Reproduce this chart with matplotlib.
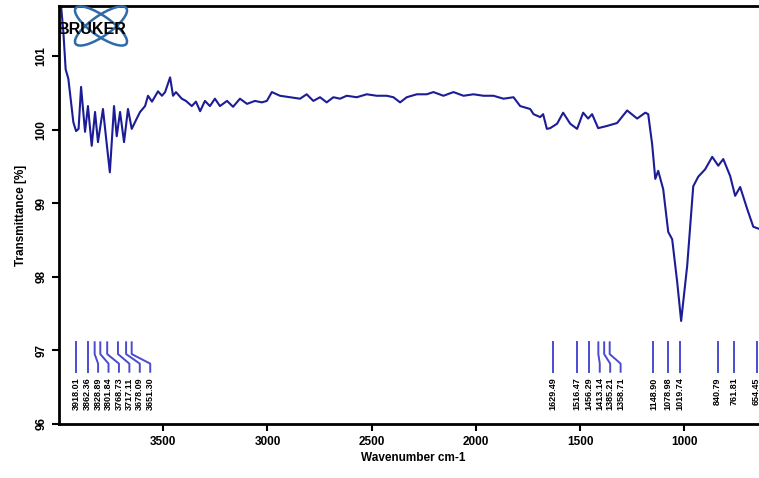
import numpy as np
import matplotlib
matplotlib.use('Agg')
import matplotlib.pyplot as plt
from matplotlib.patches import Ellipse

plt.rcParams['font.family'] = ['Liberation Sans', 'DejaVu Sans']
plt.rcParams['font.weight'] = 'bold'

# spectre (nombre d'onde en cm-1, transmittance en %)
nombre_onde = [3995, 3979, 3968, 3955, 3931, 3918, 3906, 3894, 3875, 3861,
               3843, 3827, 3813, 3789, 3770, 3756, 3736, 3723, 3707, 3688,
               3669, 3651, 3627, 3611, 3587, 3573, 3554, 3525, 3506, 3491,
               3467, 3453, 3439, 3411, 3391, 3363, 3343, 3323, 3300, 3276,
               3252, 3228, 3194, 3165, 3132, 3098, 3060, 3027, 3003, 2979,
               2940, 2892, 2844, 2812, 2780, 2748, 2716, 2684, 2652, 2620,
               2572, 2524, 2476, 2428, 2396, 2364, 2332, 2284, 2236, 2204,
               2156, 2108, 2060, 2012, 1964, 1916, 1868, 1820, 1788, 1740,
               1724, 1692, 1678, 1660, 1644, 1611, 1582, 1548, 1515, 1486,
               1462, 1443, 1414, 1371, 1323, 1275, 1227, 1188, 1174, 1155,
               1140, 1126, 1102, 1078, 1059, 1035, 1016, 987, 958, 934,
               901, 867, 838, 814, 781, 757, 733, 699, 670, 641]
transmittance = [101.84, 101.33, 100.82, 100.69, 100.10, 99.98, 100.01, 100.58, 99.97, 100.32,
                 99.78, 100.24, 99.83, 100.28, 99.78, 99.42, 100.32, 99.91, 100.24, 99.83,
                 100.28, 100.01, 100.15, 100.24, 100.32, 100.46, 100.38, 100.52, 100.46, 100.51,
                 100.71, 100.46, 100.51, 100.42, 100.39, 100.32, 100.38, 100.25, 100.39, 100.32,
                 100.42, 100.32, 100.39, 100.31, 100.42, 100.35, 100.39, 100.37, 100.39, 100.51,
                 100.46, 100.44, 100.42, 100.48, 100.39, 100.44, 100.37, 100.44, 100.42, 100.46,
                 100.44, 100.48, 100.46, 100.46, 100.44, 100.37, 100.44, 100.48, 100.48, 100.51,
                 100.46, 100.51, 100.46, 100.48, 100.46, 100.46, 100.42, 100.44, 100.32, 100.28,
                 100.21, 100.17, 100.21, 100.01, 100.02, 100.08, 100.23, 100.08, 100.01, 100.23,
                 100.15, 100.21, 100.02, 100.05, 100.09, 100.26, 100.15, 100.23, 100.21, 99.80,
                 99.33, 99.44, 99.19, 98.61, 98.51, 97.93, 97.40, 98.15, 99.23, 99.36,
                 99.46, 99.63, 99.51, 99.60, 99.37, 99.10, 99.22, 98.92, 98.68, 98.65]

# pics annotés
pics = [3918.01, 3862.36, 3828.89, 3801.84, 3768.73, 3717.11, 3678.09, 3651.30,
        1629.49, 1516.47, 1456.29, 1413.14, 1385.21, 1358.71,
        1148.90, 1078.98, 1019.74, 840.79, 761.81, 654.45]

bleu = '#1c1c96'
bleu_pic = '#4b4bd0'

fig = plt.figure(figsize=(7.59, 4.78), dpi=100)
ax = fig.add_axes([0.0777, 0.113, 0.934, 0.8745])
ax.plot(nombre_onde, transmittance, color=bleu, lw=1.5)

ax.set_xlim(4000, 600)
ax.set_ylim(96, 101.68)
ax.set_xticks([3500, 3000, 2500, 2000, 1500, 1000])
ax.set_yticks([96, 97, 98, 99, 100, 101])
ax.tick_params(direction='out', length=5, width=1.5, labelsize=8.5)
for lab in ax.get_yticklabels():
    lab.set_rotation(90)
    lab.set_va('center')
for s in ['left', 'bottom', 'top']:
    ax.spines[s].set_linewidth(2)
ax.spines['right'].set_visible(False)
ax.set_xlabel('Wavenumber cm-1', fontsize=8.5, fontweight='bold', labelpad=3)
ax.set_ylabel('Transmittance [%]', fontsize=8.5, fontweight='bold', labelpad=6)

# lignes des pics, étiquettes écartées si trop proches
ecart = 50
pos_lab = []
for i, p in enumerate(pics):
    if i > 0 and pos_lab[-1] - p < ecart:
        pos_lab.append(pos_lab[-1] - ecart)
    else:
        pos_lab.append(p)
for p, q in zip(pics, pos_lab):
    ax.plot([p, p, q, q], [97.11, 96.95, 96.82, 96.71], color=bleu_pic, lw=1.4)
    ax.text(q, 96.63, '%.2f' % p, rotation=90, ha='center', va='top',
            fontsize=6.5, fontweight='bold')

# logo Bruker (en pouces pour garder les ellipses non déformées)
for ang in [35, -35]:
    fig.patches.append(Ellipse((1.01, 4.78 - 0.26), 0.62, 0.2,
                               angle=ang, transform=fig.dpi_scale_trans,
                               fill=False, ec='#2f6aa8', lw=1.8))
fig.text(58 / 759, 1 - 30 / 478, 'BRUKER', fontsize=11.5, fontweight='bold',
         va='center', ha='left')

fig.savefig('out.png', dpi=100)
